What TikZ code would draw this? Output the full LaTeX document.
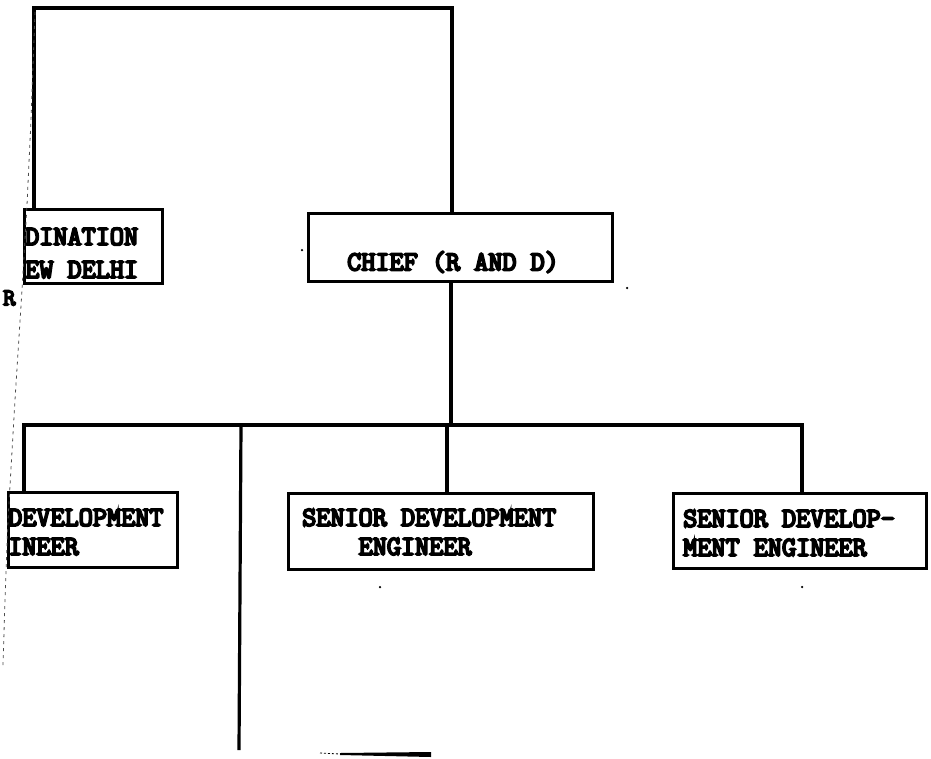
\documentclass[tikz,border=0pt]{standalone}
\usepackage{fontspec}
\usetikzlibrary{calc}
\newfontfamily\tw[FakeBold=7]{Latin Modern Mono}
\tikzset{
  x=1pt, y=-1pt,
  orgbox/.style={draw, line width=3.2pt, anchor=north west, inner sep=0pt},
  wire/.style={line width=3.2pt},
  lbl/.style={anchor=west, inner sep=0pt, align=left, font=\tw\fontsize{27.4}{29}\selectfont},
  speck/.style={fill=black, inner sep=0pt, minimum size=2.5pt, circle}
}
\begin{document}
\begin{tikzpicture}
\useasboundingbox (0,0) rectangle (931,758);
% boxes
\node[orgbox, minimum width=138pt, minimum height=74pt] (coord) at (23,208) {};
\node[orgbox, minimum width=304pt, minimum height=68pt] (chief) at (307,212) {};
\node[orgbox, minimum width=169pt, minimum height=75pt] (dev) at (7,491) {};
\node[orgbox, minimum width=305pt, minimum height=76pt] (sen1) at (287,492) {};
\node[orgbox, minimum width=253pt, minimum height=75pt] (sen2) at (672,492) {};
% texts
\node[lbl, font=\tw\fontsize{27.4}{33}\selectfont] (tcoord) at (25,253) {DINATION\\EW DELHI};
\node[lbl] (tchief) at (347,262) {CHIEF (R AND D)};
\node[lbl] (tdev) at (8,532) {DEVELOPMENT\\INEER};
\node[lbl] (tsen1) at (302,532) {SENIOR DEVELOPMENT\\\phantom{XXXX}ENGINEER};
\node[lbl] (tsen2) at (683,533) {SENIOR DEVELOP-\\MENT ENGINEER};
\node[anchor=west, inner sep=0pt, font=\tw\fontsize{24}{24}\selectfont] (rfrag) at (3,298) {R};
% coordinates
\coordinate (tl) at (34,8);
\coordinate (tr) at (452,8);
\coordinate (barL) at (22,425);
\coordinate (barR) at (802,425);
\coordinate (jdev) at (24,425);
\coordinate (jmid) at (241,425);
\coordinate (jchief) at (451,425);
\coordinate (jsen1) at (447,425);
\coordinate (midend) at (239,750);
\coordinate (fragA) at (340,754);
\coordinate (fragB) at (431,755);
\coordinate (fragC) at (320,753);
% connectors
\draw[wire] (tl |- coord.north) -- (tl) -- (tr) -- (tr |- chief.north);
\draw[wire] (chief.south -| jchief) -- (jchief);
\draw[wire] (barL) -- (barR) -- (barR |- sen2.north);
\draw[wire] (jdev) -- (jdev |- dev.north);
\draw[wire] (jsen1) -- (jsen1 |- sen1.north);
\draw[wire] (jmid) -- (midend);
\fill ($(fragA)+(0,-1)$) -- ($(fragB)+(0,-3)$) -- ($(fragB)+(0,2)$) -- ($(fragA)+(0,1)$) -- cycle;
\draw[line width=0.8pt, dash pattern=on 2pt off 2pt] (fragC) -- (fragA);
% page edge crease
\draw[line width=0.8pt, dash pattern=on 3pt off 4pt, black!70]
  (35,12) -- (31,120) -- (27,205) -- (22,290) -- (15,400) -- (8,520) -- (5,600) -- (3,665);
% specks
\node[speck] (s1) at (302,250) {};
\node[speck] (s2) at (627,288) {};
\node[speck] (s3) at (380,587) {};
\node[speck] (s4) at (802,587) {};
\end{tikzpicture}
\end{document}
